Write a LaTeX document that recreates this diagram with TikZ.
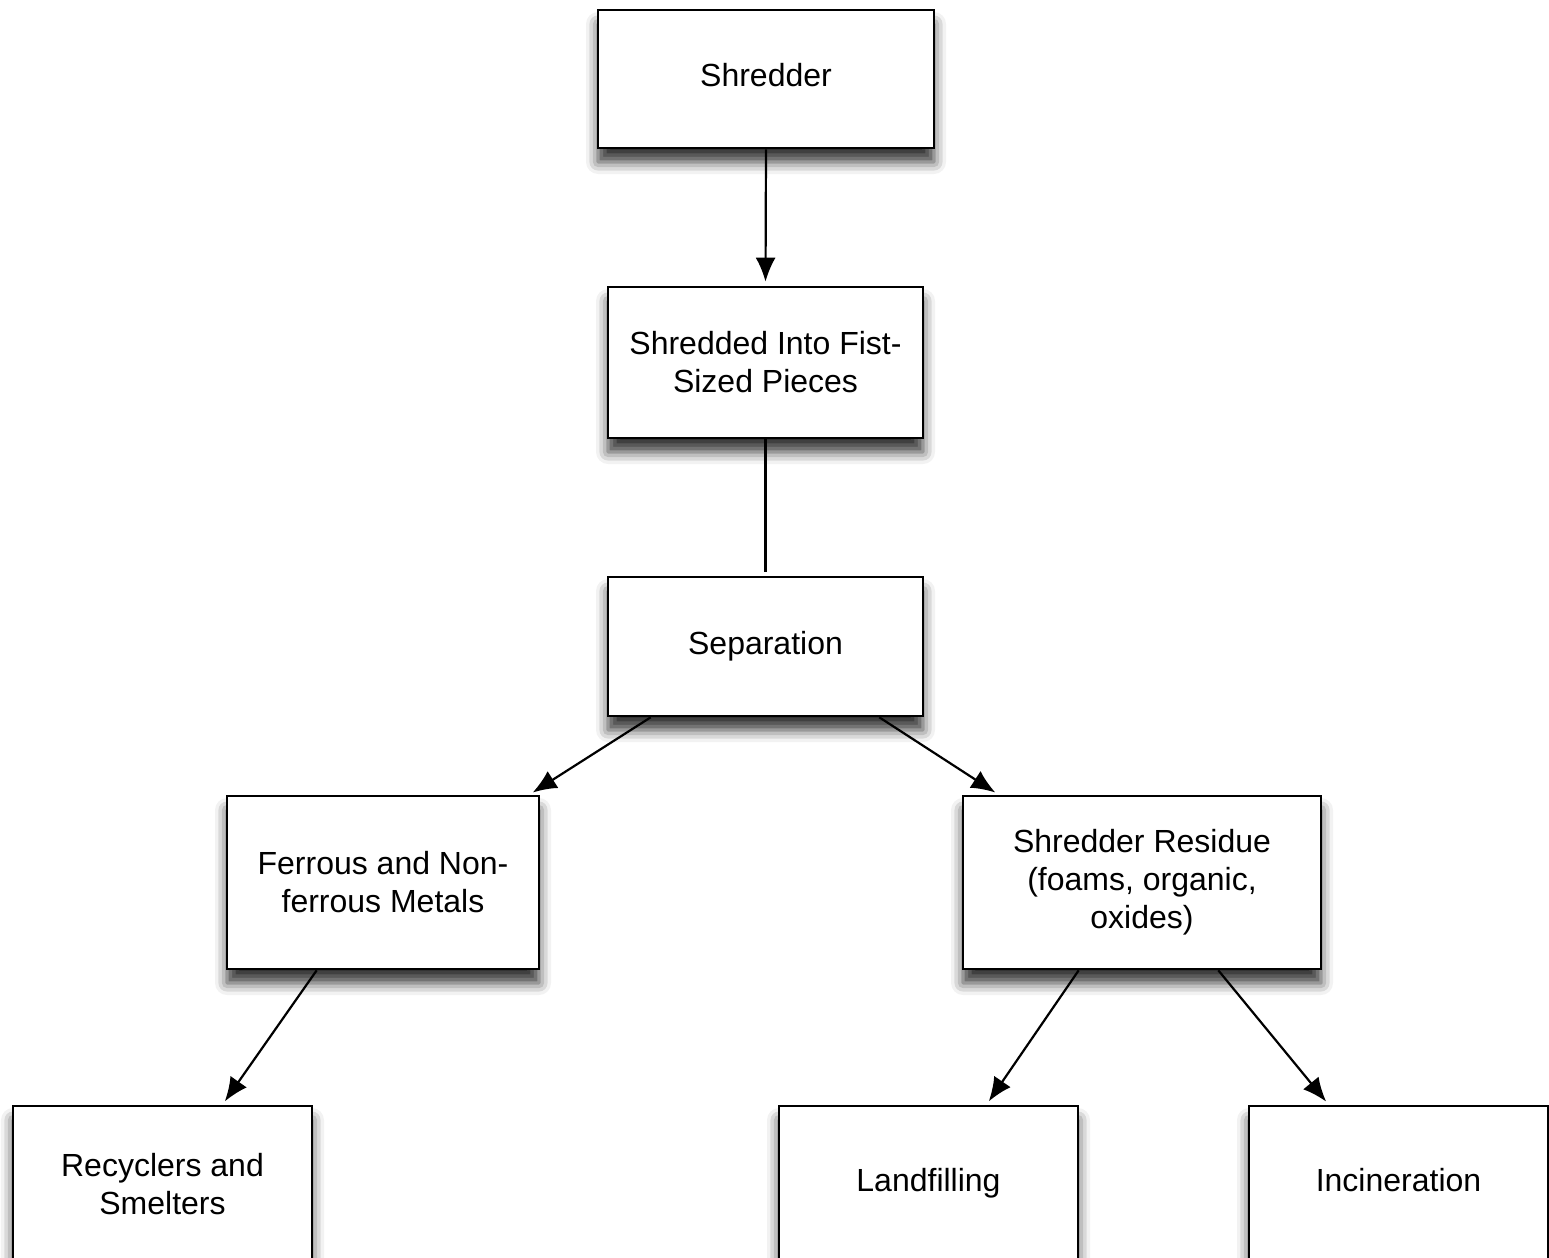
\documentclass[tikz,border=0pt]{standalone}
\usepackage{fontspec}
\setmainfont{Liberation Sans}
\usetikzlibrary{arrows.meta,shadows.blur}

\begin{document}
\begin{tikzpicture}[x=0.5pt,y=-0.5pt]
    \useasboundingbox (0,0) rectangle (1549,1258);

        % Boxes, the tuple is the centre of each box
        \begin{scope}[every node/.style={rectangle,draw,fill=white,line width=1.3pt,align=center,
            font=\fontsize{16}{19}\selectfont,
            blur shadow={shadow xshift=0pt,shadow yshift=-7pt,shadow blur radius=6pt,shadow opacity=80}}]
        \node[minimum width=168pt,minimum height=69pt] (A) at (766,79) {\strut Shredder};
        \node[minimum width=157.5pt,minimum height=75.5pt] (B) at (765.5,362.5) {Shredded Into Fist-\\Sized Pieces};
        \node[minimum width=157.5pt,minimum height=69.5pt] (C) at (765.5,646.5) {\strut Separation};
        \node[minimum width=156pt,minimum height=86.5pt] (D) at (383,882.5) {Ferrous and Non-\\ferrous Metals};
        \node[minimum width=179pt,minimum height=86.5pt] (E) at (1142,882.5) {Shredder Residue\\(foams, organic,\\oxides)};
        \node[minimum width=149.5pt,minimum height=78pt] (F) at (162.5,1184) {Recyclers and\\Smelters};
        \node[minimum width=149.5pt,minimum height=78pt] (G) at (928.5,1184) {\strut Landfilling};
        \node[minimum width=149.5pt,minimum height=78pt] (H) at (1398.5,1184) {\strut Incineration};
        \end{scope}

        % Edges between the boxes
        \begin{scope}[>={Latex[length=12pt,width=10pt]},
                  every edge/.style={draw=black, line width=1.1pt, shorten >=2pt}]
        \path [->] (A.south) edge (B.north);
        \path (B.south) edge (C.north);

        \path [->] ([xshift=22pt]C.south west) edge ([xshift=-5.5pt]D.north east);
        \path [->] ([xshift=-22.5pt]C.south east) edge ([xshift=18.5pt]E.north west);

        \path [->] ([xshift=45.5pt]D.south west) edge ([xshift=30pt]F.north);

        \path [->] ([xshift=58.5pt]E.south west) edge ([xshift=29pt]G.north);
        \path [->] ([xshift=-52pt]E.south east) edge ([xshift=40.5pt]H.north west);
        \end{scope}

\end{tikzpicture}
\end{document}
